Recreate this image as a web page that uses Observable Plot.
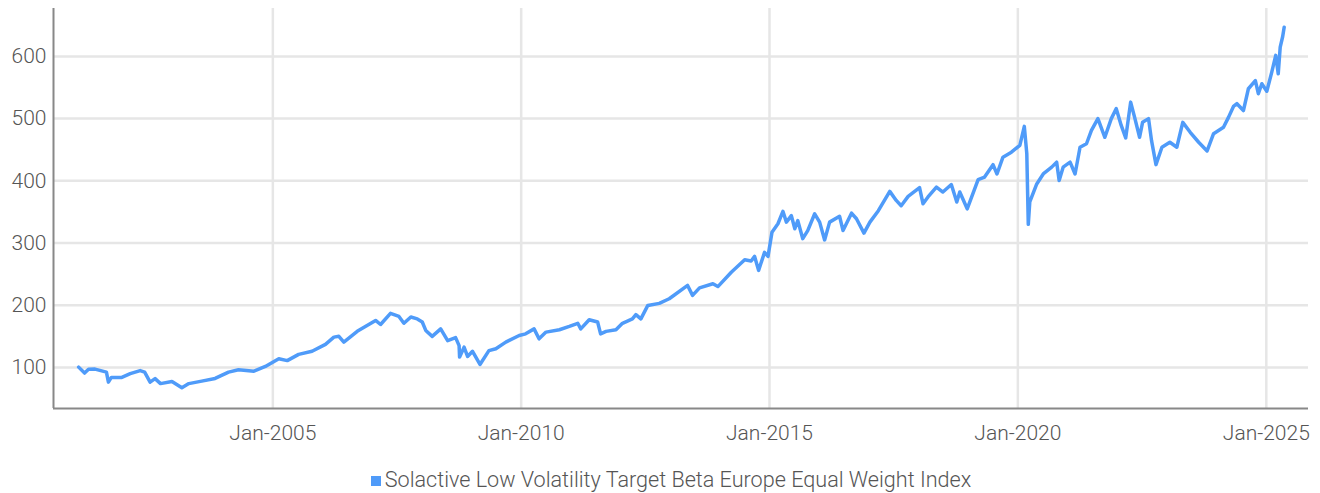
<!DOCTYPE html>
<html>
<head>
<meta charset="utf-8">
<script src="https://cdn.jsdelivr.net/npm/d3@7"></script>
<script src="https://cdn.jsdelivr.net/npm/@observablehq/plot@0.6"></script>
<style>
  html, body { margin: 0; padding: 0; background: #fff; }
  #chart { width: 1320px; }
  #chart svg { display: block; }
  .legend { width: 1320px; height: 26px; display: flex; justify-content: center; align-items: center;
    font-family: Roboto, "Noto Sans", sans-serif; font-weight: 300; font-size: 21.6px; line-height: 26px; color: #555; padding-left: 22px; margin-top: 12px; box-sizing: border-box; }
  .legend .sw { width: 10px; height: 10px; background: #4f9bf9; margin-right: 4px; margin-top: 2px; }
</style>
</head>
<body>
<div id="chart"></div>
<div class="legend"><span class="sw"></span><span>Solactive Low Volatility Target Beta Europe Equal Weight Index</span></div>
<script>
const seriesName = "Solactive Low Volatility Target Beta Europe Equal Weight Index";

// decimal years
const years = [
  2001.09, 2001.21, 2001.29, 2001.42, 2001.65, 2001.69, 2001.75, 2001.96,
  2002.13, 2002.33, 2002.42, 2002.53, 2002.63, 2002.74, 2002.97,
  2003.17, 2003.31, 2003.57, 2003.84,
  2004.11, 2004.31, 2004.62, 2004.85,
  2005.12, 2005.29, 2005.52, 2005.79,
  2006.06, 2006.23, 2006.33, 2006.43, 2006.70,
  2007.07, 2007.17, 2007.37, 2007.54, 2007.64, 2007.78, 2007.91,
  2008.01, 2008.08, 2008.21, 2008.38, 2008.52, 2008.68, 2008.75, 2008.76, 2008.85, 2008.92,
  2009.02, 2009.17, 2009.35, 2009.49, 2009.69, 2009.96,
  2010.09, 2010.26, 2010.36, 2010.50, 2010.77, 2010.97,
  2011.14, 2011.20, 2011.37, 2011.54, 2011.60, 2011.71, 2011.91,
  2012.04, 2012.24, 2012.31, 2012.41, 2012.55, 2012.78,
  2012.98, 2013.35, 2013.45, 2013.59, 2013.86, 2013.96,
  2014.23, 2014.50, 2014.63, 2014.70, 2014.78, 2014.90, 2014.97,
  2015.05, 2015.17, 2015.27, 2015.34, 2015.44, 2015.51, 2015.57, 2015.67, 2015.77, 2015.91,
  2016.01, 2016.11, 2016.21, 2016.41, 2016.48, 2016.65, 2016.75, 2016.90,
  2017.02, 2017.19, 2017.42, 2017.55, 2017.65, 2017.79,
  2018.02, 2018.09, 2018.19, 2018.36, 2018.49, 2018.66, 2018.77,
  2018.83, 2018.98,
  2019.20, 2019.33, 2019.50, 2019.58, 2019.70, 2019.87,
  2020.04, 2020.13, 2020.18, 2020.21, 2020.24, 2020.38, 2020.51, 2020.68, 2020.78, 2020.83, 2020.91,
  2021.05, 2021.15, 2021.25, 2021.38, 2021.48, 2021.61, 2021.75, 2021.88, 2021.98,
  2022.08, 2022.17, 2022.27, 2022.35, 2022.45, 2022.51, 2022.63, 2022.69, 2022.78, 2022.90,
  2023.06, 2023.20, 2023.32, 2023.47, 2023.64, 2023.81, 2023.94,
  2024.14, 2024.24, 2024.34, 2024.41, 2024.54, 2024.64, 2024.78, 2024.84, 2024.91,
  2025.01, 2025.11, 2025.19, 2025.24, 2025.28, 2025.33, 2025.36
];

const values = [
  100.5, 91, 97, 97.3, 92.5, 76.4, 84, 84,
  90, 95, 92.5, 76.4, 82, 74, 77.5,
  67.4, 74, 78, 82.3,
  92.5, 96.3, 94, 101.6,
  114, 111, 121, 126,
  137, 148.7, 150, 140.7, 158,
  175.6, 169, 187, 182, 171, 181, 178,
  173, 159.5, 150, 162, 143, 148, 135, 116.6, 132.6, 117.7,
  126, 104.8, 127, 130, 140.7, 151.4,
  154, 162, 146, 156.8, 160.6, 166,
  171, 162, 176.7, 173, 154, 158, 160.6,
  171, 178, 185, 178, 199.7, 203,
  210.4, 231.8, 215.8, 228, 234.5, 230,
  253, 273, 271, 278.5, 256, 285, 278.5,
  317.5, 331, 351, 333.6, 344, 323, 336, 307, 320, 347,
  333.6, 305, 333.6, 343, 320, 348, 339, 316,
  333.6, 352, 383, 368.5, 360, 375,
  389, 363, 374, 390, 382, 394, 366,
  382, 355,
  401.8, 406, 426, 411, 438, 446,
  457, 487.5, 443.6, 330, 366, 395, 411, 422, 430, 400.6, 422,
  430, 411, 454, 459.6, 481, 500, 470, 500, 516,
  489, 469, 526.5, 502, 470, 494, 500, 465, 426, 454,
  462, 454, 494, 478, 462, 448, 475.7,
  486, 502, 519.6, 524, 513, 548, 561, 540, 556,
  544, 574.7, 601.6, 572, 615, 632, 647
];

const yTicks = [100, 200, 300, 400, 500, 600];
const xTickYears = [2005, 2010, 2015, 2020, 2025];

function toDate(dy) {
  const y = Math.floor(dy);
  const start = Date.UTC(y, 0, 1), end = Date.UTC(y + 1, 0, 1);
  return new Date(start + (dy - y) * (end - start));
}

const data = years.map((t, i) => ({date: toDate(t), value: values[i]}));
const xTicks = xTickYears.map(y => new Date(Date.UTC(y, 0, 1)));
const xDomain = [toDate(2000.585), toDate(2025.85)];
const yDomain = [34, 677];
const font = 'Roboto, "Noto Sans", sans-serif';

const chart = Plot.plot({
  width: 1320,
  height: 455,
  marginLeft: 53,
  marginRight: 12,
  marginTop: 8,
  marginBottom: 47,
  style: {fontFamily: font, fontSize: "21px", fontWeight: 300, color: "#555", background: "#fff"},
  x: {type: "utc", domain: xDomain},
  y: {domain: yDomain},
  marks: [
    Plot.gridY(yTicks, {stroke: "#e6e6e6", strokeOpacity: 1, strokeWidth: 2.5}),
    Plot.gridX(xTicks, {stroke: "#e6e6e6", strokeOpacity: 1, strokeWidth: 2.5}),
    Plot.axisY(yTicks, {tickSize: 0, tickPadding: 7, fontSize: 21, fill: "#555", label: null}),
    Plot.axisX(xTicks, {tickSize: 0, tickPadding: 17, fontSize: 21, fill: "#555", label: null, tickFormat: d3.utcFormat("%b-%Y")}),
    Plot.line(data, {x: "date", y: "value", stroke: "#4f9bf9", strokeWidth: 3.5, strokeLinejoin: "round"}),
    Plot.ruleX([xDomain[0]], {stroke: "#888", strokeWidth: 2}),
    Plot.ruleY([yDomain[0]], {stroke: "#888", strokeWidth: 2})
  ]
});
document.getElementById("chart").appendChild(chart);
</script>
</body>
</html>
